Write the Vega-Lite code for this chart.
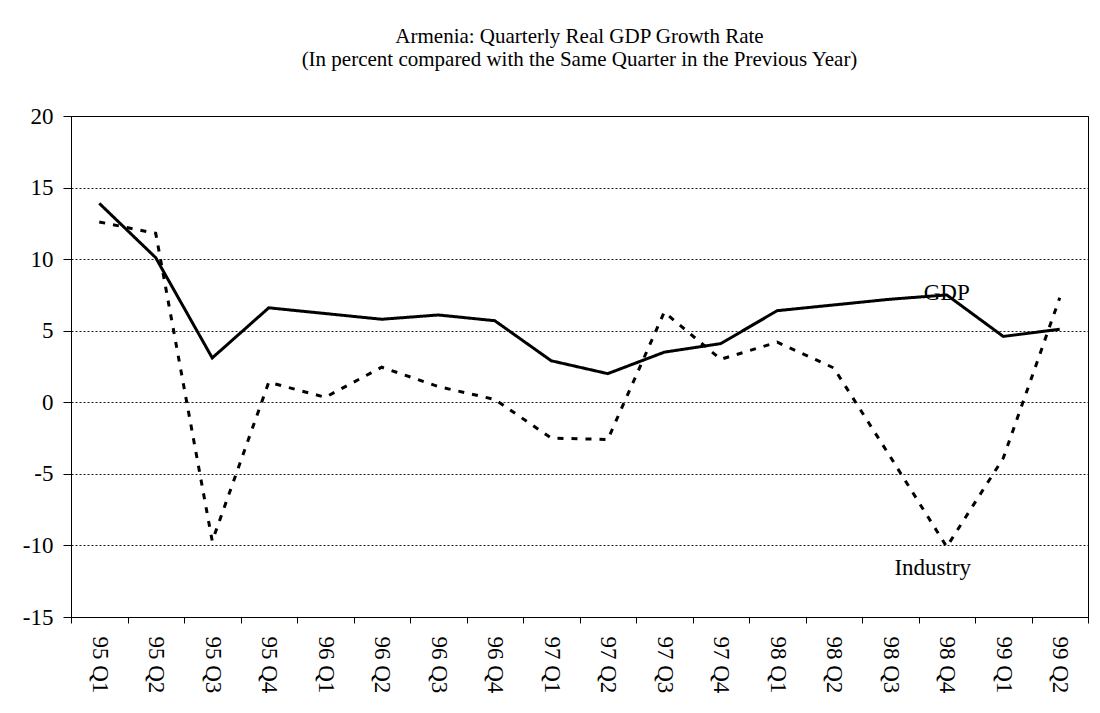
{
  "$schema": "https://vega.github.io/schema/vega-lite/v6.json",
  "width": 1017,
  "height": 501,
  "autosize": {"type": "none"},
  "padding": {"left": 71, "top": 116, "right": 12, "bottom": 96},
  "background": "white",
  "title": {
    "text": ["Armenia: Quarterly Real GDP Growth Rate", "(In percent compared with the Same Quarter in the Previous Year)"],
    "font": "Liberation Serif",
    "fontSize": 21,
    "fontWeight": "normal",
    "lineHeight": 23,
    "color": "black",
    "anchor": "middle",
    "offset": 35
  },
  "config": {
    "view": {"stroke": "black", "strokeWidth": 1},
    "axis": {
      "labelFont": "Liberation Serif",
      "labelColor": "black",
      "domainColor": "black",
      "tickColor": "black",
      "title": null
    }
  },
  "data": {
    "values": [
      {"q": "95 Q1", "series": "GDP", "value": 13.9},
      {"q": "95 Q2", "series": "GDP", "value": 10.1},
      {"q": "95 Q3", "series": "GDP", "value": 3.1},
      {"q": "95 Q4", "series": "GDP", "value": 6.6},
      {"q": "96 Q1", "series": "GDP", "value": 6.2},
      {"q": "96 Q2", "series": "GDP", "value": 5.8},
      {"q": "96 Q3", "series": "GDP", "value": 6.1},
      {"q": "96 Q4", "series": "GDP", "value": 5.7},
      {"q": "97 Q1", "series": "GDP", "value": 2.9},
      {"q": "97 Q2", "series": "GDP", "value": 2.0},
      {"q": "97 Q3", "series": "GDP", "value": 3.5},
      {"q": "97 Q4", "series": "GDP", "value": 4.1},
      {"q": "98 Q1", "series": "GDP", "value": 6.4},
      {"q": "98 Q2", "series": "GDP", "value": 6.8},
      {"q": "98 Q3", "series": "GDP", "value": 7.2},
      {"q": "98 Q4", "series": "GDP", "value": 7.5},
      {"q": "99 Q1", "series": "GDP", "value": 4.6},
      {"q": "99 Q2", "series": "GDP", "value": 5.1},
      {"q": "95 Q1", "series": "Industry", "value": 12.6},
      {"q": "95 Q2", "series": "Industry", "value": 11.8},
      {"q": "95 Q3", "series": "Industry", "value": -9.7},
      {"q": "95 Q4", "series": "Industry", "value": 1.4},
      {"q": "96 Q1", "series": "Industry", "value": 0.35},
      {"q": "96 Q2", "series": "Industry", "value": 2.45},
      {"q": "96 Q3", "series": "Industry", "value": 1.1},
      {"q": "96 Q4", "series": "Industry", "value": 0.2},
      {"q": "97 Q1", "series": "Industry", "value": -2.5},
      {"q": "97 Q2", "series": "Industry", "value": -2.6},
      {"q": "97 Q3", "series": "Industry", "value": 6.3},
      {"q": "97 Q4", "series": "Industry", "value": 3.0},
      {"q": "98 Q1", "series": "Industry", "value": 4.2},
      {"q": "98 Q2", "series": "Industry", "value": 2.4},
      {"q": "98 Q3", "series": "Industry", "value": -3.8},
      {"q": "98 Q4", "series": "Industry", "value": -10.1},
      {"q": "99 Q1", "series": "Industry", "value": -3.9},
      {"q": "99 Q2", "series": "Industry", "value": 7.3}
    ]
  },
  "encoding": {
    "x": {
      "field": "q",
      "type": "ordinal",
      "sort": null,
      "scale": {"paddingInner": 0, "paddingOuter": 0},
      "axis": {
        "labelAngle": 90,
        "labelFont": "Liberation Serif",
        "labelFontSize": 23,
        "tickBand": "extent",
        "tickSize": 6,
        "labelPadding": 13,
        "grid": false
      }
    },
    "y": {
      "field": "value",
      "type": "quantitative",
      "scale": {"domain": [-15, 20], "nice": false, "zero": false},
      "axis": {
        "values": [-15, -10, -5, 0, 5, 10, 15, 20],
        "labelExpr": "toString(datum.value)",
        "labelFont": "Liberation Serif",
        "labelFontSize": 23,
        "tickSize": 8,
        "labelPadding": 10,
        "grid": true,
        "gridColor": "black",
        "gridDash": [2, 2],
        "gridWidth": 1,
        "gridOpacity": 0.9
      }
    }
  },
  "layer": [
    {
      "mark": {"type": "line", "color": "black", "strokeWidth": 3},
      "encoding": {
        "strokeDash": {
          "field": "series",
          "type": "nominal",
          "scale": {"domain": ["GDP", "Industry"], "range": [[1, 0], [6, 8]]},
          "legend": null
        }
      }
    },
    {
      "data": {"values": [{"q": "98 Q4", "value": 7.6, "label": "GDP"}]},
      "mark": {"type": "text", "font": "Liberation Serif", "fontSize": 23, "color": "black", "baseline": "middle", "align": "center"},
      "encoding": {"text": {"field": "label"}}
    },
    {
      "data": {"values": [{"q": "98 Q4", "value": -11.6, "label": "Industry"}]},
      "mark": {"type": "text", "font": "Liberation Serif", "fontSize": 23, "color": "black", "baseline": "middle", "align": "center", "dx": -14},
      "encoding": {"text": {"field": "label"}}
    }
  ]
}
